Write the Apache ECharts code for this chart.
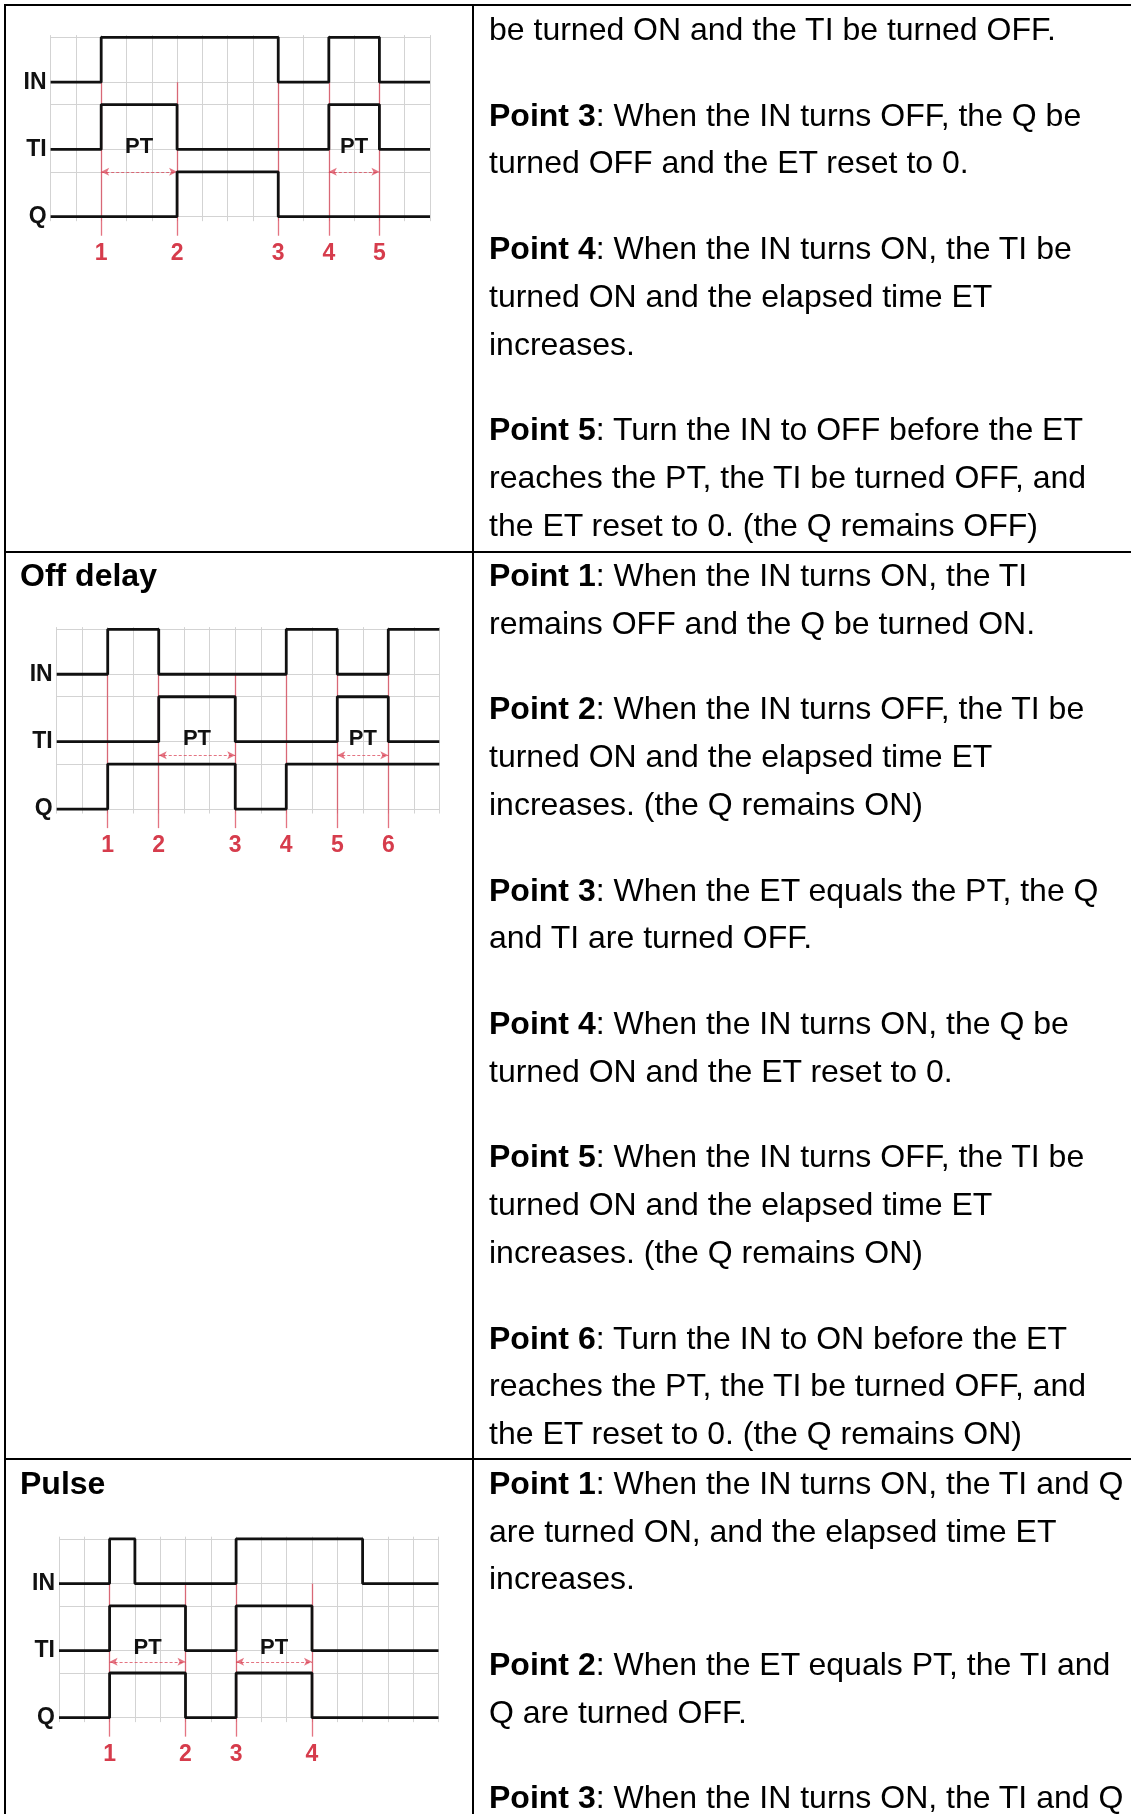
<!DOCTYPE html>
<html>
<head>
<meta charset="utf-8">
<script src="https://cdn.jsdelivr.net/npm/echarts@6/dist/echarts.min.js"></script>
<style>
html,body{margin:0;padding:0;background:#fff;}
body{width:1131px;height:1814px;overflow:hidden;position:relative;font-family:"Liberation Sans",Arial,sans-serif;color:#000;}
#chart{position:absolute;left:0;top:0;width:1131px;height:1814px;z-index:1;}
.b{position:absolute;background:#000;z-index:2;}
.cell{position:absolute;left:489px;font-size:32px;line-height:47.8px;white-space:nowrap;z-index:2;}
.cell p{margin:0 0 37.8px 0;}
.title{position:absolute;left:20px;font-size:32px;line-height:47.8px;font-weight:bold;z-index:2;}
</style>
</head>
<body>
<div id="chart"></div>

<div class="b" style="left:4px;top:4px;width:1127px;height:2px"></div>
<div class="b" style="left:4px;top:4px;width:2px;height:1810px"></div>
<div class="b" style="left:472px;top:4px;width:2px;height:1810px"></div>
<div class="b" style="left:4px;top:551px;width:1127px;height:2px"></div>
<div class="b" style="left:4px;top:1458px;width:1127px;height:2px"></div>

<div class="cell" style="top:6.1px">
<p>be turned ON and the TI be turned OFF.</p>
<p><b>Point 3</b>: When the IN turns OFF, the Q be<br>turned OFF and the ET reset to 0.</p>
<p><b>Point 4</b>: When the IN turns ON, the TI be<br>turned ON and the elapsed time ET<br>increases.</p>
<p><b>Point 5</b>: Turn the IN to OFF before the ET<br>reaches the PT, the TI be turned OFF, and<br>the ET reset to 0. (the Q remains OFF)</p>
</div>

<div class="title" style="top:552.1px">Off delay</div>
<div class="cell" style="top:552.1px">
<p><b>Point 1</b>: When the IN turns ON, the TI<br>remains OFF and the Q be turned ON.</p>
<p><b>Point 2</b>: When the IN turns OFF, the TI be<br>turned ON and the elapsed time ET<br>increases. (the Q remains ON)</p>
<p><b>Point 3</b>: When the ET equals the PT, the Q<br>and TI are turned OFF.</p>
<p><b>Point 4</b>: When the IN turns ON, the Q be<br>turned ON and the ET reset to 0.</p>
<p><b>Point 5</b>: When the IN turns OFF, the TI be<br>turned ON and the elapsed time ET<br>increases. (the Q remains ON)</p>
<p><b>Point 6</b>: Turn the IN to ON before the ET<br>reaches the PT, the TI be turned OFF, and<br>the ET reset to 0. (the Q remains ON)</p>
</div>

<div class="title" style="top:1459.8px">Pulse</div>
<div class="cell" style="top:1459.8px">
<p><b>Point 1</b>: When the IN turns ON, the TI and Q<br>are turned ON, and the elapsed time ET<br>increases.</p>
<p><b>Point 2</b>: When the ET equals PT, the TI and<br>Q are turned OFF.</p>
<p><b>Point 3</b>: When the IN turns ON, the TI and Q</p>
</div>

<script>
// ---- data: [time, state after edge] (0 = OFF, 1 = ON) ----
// On delay (top diagram)
const tonIN = [[0,0],[2,1],[9,0],[11,1],[13,0],[15,0]];
const tonTI = [[0,0],[2,1],[5,0],[11,1],[13,0],[15,0]];
const tonQ  = [[0,0],[5,1],[9,0],[15,0]];
const tonMarks = [2,5,9,11,13];
const tonPT = [[2,5],[11,13]];
// Off delay
const tofIN = [[0,0],[2,1],[4,0],[9,1],[11,0],[13,1],[15,1]];
const tofTI = [[0,0],[4,1],[7,0],[11,1],[13,0],[15,0]];
const tofQ  = [[0,0],[2,1],[7,0],[9,1],[15,1]];
const tofMarks = [2,4,7,9,11,13];
const tofPT = [[4,7],[11,13]];
// Pulse
const tpIN = [[0,0],[2,1],[3,0],[7,1],[12,0],[15,0]];
const tpTI = [[0,0],[2,1],[5,0],[7,1],[10,0],[15,0]];
const tpQ  = [[0,0],[2,1],[5,0],[7,1],[10,0],[15,0]];
const tpMarks = [2,5,7,10];
const tpPT = [[2,5],[7,10]];

const signalNames = ['IN','TI','Q'];
const ptLabel = 'PT';
const timeMin = 0, timeMax = 15;

const diagrams = [
  {IN: tonIN, TI: tonTI, Q: tonQ, marks: tonMarks, pt: tonPT},
  {IN: tofIN, TI: tofTI, Q: tofQ, marks: tofMarks, pt: tofPT},
  {IN: tpIN,  TI: tpTI,  Q: tpQ,  marks: tpMarks,  pt: tpPT}
];

// ---- layout / style ----
const layouts = [
  {left:50.6, top:35.1,   width:379.4, height:204.0, arrowLevel:2.0},
  {left:56.7, top:627.1,  width:382.6, height:204.4, arrowLevel:2.4},
  {left:59.0, top:1536.7, width:379.5, height:203.3, arrowLevel:2.5}
];
const base = {IN:6, TI:3, Q:0};
const SWING = 2;
const yMin = -1, yMax = 8.1, gridBottom = -0.2, redBottom = -0.85, ptTextLevel = 3.1;
const FONT = '"Liberation Sans", Arial, sans-serif';
const GRID_COLOR = '#d3d3d3';
const RED_LINE = 'rgba(218,62,82,0.72)';
const RED_TEXT = '#d63c4c';
const BLACK = '#111111';
const PT_FONT = 22;

const chart = echarts.init(document.getElementById('chart'), null, {renderer:'canvas'});
const option = {animation:false, backgroundColor:'transparent', grid:[], xAxis:[], yAxis:[], series:[]};

diagrams.forEach((d, i) => {
  const L = layouts[i];
  const unit = L.height / (yMax - yMin);
  option.grid.push({left:L.left, top:L.top, width:L.width, height:L.height});
  option.xAxis.push({
    type:'value', gridIndex:i, min:timeMin, max:timeMax, interval:1,
    axisLine:{show:false}, axisTick:{show:false}, splitLine:{show:false},
    axisLabel:{show:true, margin:3, color:RED_TEXT, fontSize:23, fontWeight:'bold', fontFamily:FONT,
      formatter: v => { const k = d.marks.indexOf(v); return k < 0 ? '' : String(k + 1); }}
  });
  option.yAxis.push({type:'value', gridIndex:i, min:yMin, max:yMax, show:false});

  // grid lines
  const gridData = [];
  for (let t = timeMin; t <= timeMax; t++) gridData.push([{coord:[t, gridBottom]}, {coord:[t, yMax]}]);
  signalNames.forEach(n => {
    gridData.push({yAxis: base[n], label:{show:true, position:'start', distance:4, formatter:n,
      color:BLACK, fontSize:23, fontWeight:'bold', fontFamily:FONT}});
    gridData.push({yAxis: base[n] + SWING});
  });
  option.series.push({
    type:'line', xAxisIndex:i, yAxisIndex:i, data:[], silent:true,
    markLine:{silent:true, symbol:'none', z:1, animation:false,
      lineStyle:{color:GRID_COLOR, width:1, type:'solid'}, label:{show:false},
      emphasis:{disabled:true}, data:gridData}
  });

  // red event lines
  option.series.push({
    type:'line', xAxisIndex:i, yAxisIndex:i, data:[], silent:true,
    markLine:{silent:true, symbol:'none', z:2, animation:false,
      lineStyle:{color:RED_LINE, width:1.3, type:'solid'}, label:{show:false},
      emphasis:{disabled:true},
      data: d.marks.map(x => [{coord:[x, base.IN]}, {coord:[x, redBottom]}])}
  });

  // PT arrows with "PT" label above
  const ptDistance = Math.max(0, (ptTextLevel - L.arrowLevel) * unit - PT_FONT / 2);
  option.series.push({
    type:'line', xAxisIndex:i, yAxisIndex:i, data:[], silent:true,
    markLine:{silent:true, symbol:['arrow','arrow'], symbolSize:[6,8], z:4, animation:false,
      lineStyle:{color:RED_LINE, width:1.2, type:[3,2]},
      label:{show:true, position:'middle', distance:ptDistance, formatter:ptLabel,
        color:BLACK, fontSize:PT_FONT, fontWeight:'bold', fontFamily:FONT},
      emphasis:{disabled:true},
      data: d.pt.map(([a,b]) => [{coord:[a, L.arrowLevel]}, {coord:[b, L.arrowLevel]}])}
  });

  // signals
  signalNames.forEach(n => {
    option.series.push({
      type:'line', name:n, xAxisIndex:i, yAxisIndex:i, step:'end', symbol:'none', silent:true, z:5,
      lineStyle:{color:BLACK, width:2.8},
      data: d[n].map(([t, s]) => [t, base[n] + s * SWING])
    });
  });
});

chart.setOption(option);
</script>
</body>
</html>
